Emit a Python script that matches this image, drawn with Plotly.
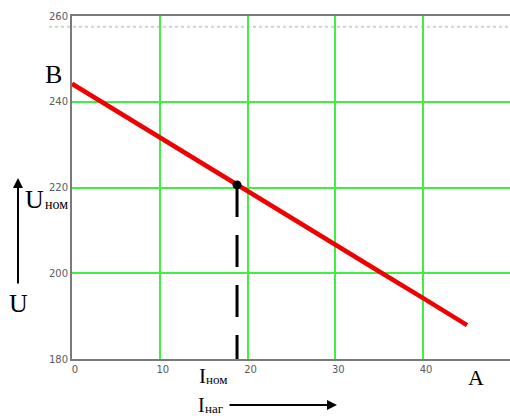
import plotly.graph_objects as go

# Data
I_load = [0, 5, 10, 15, 20, 25, 30, 35, 40, 45]
U_out = [244.2, 237.9, 231.7, 225.4, 219.2, 212.9, 206.7, 200.4, 194.2, 187.9]
I_nom = 18.8
U_nom = 220.6
x_ticks = [0, 10, 20, 30, 40]
y_ticks = [180, 200, 220, 240, 260]
ref_level = 257.5

W, H = 510, 416
L, R, T, B = 72, 0, 16, 57
PW, PH = W - L - R, H - T - B


def px(x):
    return (x - L) / PW


def py(y):
    return (H - B - y) / PH


SERIF = "Liberation Serif"
GREEN = "#40f040"
AXIS = "#7a7a7a"

fig = go.Figure()
fig.add_trace(go.Scatter(x=I_load, y=U_out, mode="lines",
                         line=dict(color="#f00000", width=4.5),
                         showlegend=False, hoverinfo="skip"))
fig.add_trace(go.Scatter(x=[I_nom, I_nom], y=[U_nom, y_ticks[0]], mode="lines",
                         line=dict(color="black", width=3, dash="32px,18px"),
                         showlegend=False, hoverinfo="skip"))
fig.add_trace(go.Scatter(x=[I_nom], y=[U_nom], mode="markers",
                         marker=dict(color="black", size=9),
                         showlegend=False, hoverinfo="skip", cliponaxis=False))

fig.add_shape(type="line", xref="paper", yref="y", x0=px(49), x1=1,
              y0=ref_level, y1=ref_level,
              line=dict(color="#d0d0d0", width=2, dash="dot"), layer="below")

ann = []


def text(t, x, y, size, xanchor="left", yanchor="middle"):
    ann.append(dict(text=t, x=px(x), y=py(y), xref="paper", yref="paper",
                    showarrow=False, xanchor=xanchor, yanchor=yanchor,
                    font=dict(family=SERIF, size=size, color="black")))


text("B", 53, 74, 26, xanchor="center")
text("U", 23, 199, 26)
text("ном", 43, 204, 14)
text("U", 18, 303, 26, xanchor="center")
text("I", 197, 376, 21)
text("ном", 204, 379, 13)
text("I", 196, 404.5, 20)
text("наг", 203, 408.5, 13)
text("A", 476, 377, 22, xanchor="center")

# arrows
ann.append(dict(text="", x=px(18), y=py(178), xref="paper", yref="paper",
                showarrow=True, ax=0, ay=107, axref="pixel", ayref="pixel",
                arrowhead=2, arrowsize=1, arrowwidth=2, arrowcolor="black"))
ann.append(dict(text="", x=px(337), y=py(405), xref="paper", yref="paper",
                showarrow=True, ax=-109, ay=0, axref="pixel", ayref="pixel",
                arrowhead=2, arrowsize=1, arrowwidth=2, arrowcolor="black"))

fig.update_layout(
    width=W, height=H,
    margin=dict(l=L, r=R, t=T, b=B, pad=0, autoexpand=False),
    plot_bgcolor="white", paper_bgcolor="white",
    annotations=ann,
    xaxis=dict(range=[0, 49.9], tickvals=x_ticks, ticktext=[str(v) for v in x_ticks],
               showgrid=True, gridcolor=GREEN, gridwidth=2, zeroline=False,
               showline=True, linecolor=AXIS, linewidth=2, mirror=True,
               ticks="", ticklabelshift=3,
               tickfont=dict(family="DejaVu Sans", size=10, color="#5a5a5a")),
    yaxis=dict(range=[180, 260], tickvals=y_ticks, ticktext=[str(v) for v in y_ticks],
               showgrid=True, gridcolor=GREEN, gridwidth=2, zeroline=False,
               showline=True, linecolor=AXIS, linewidth=2, mirror=False,
               ticks="", ticklabelstandoff=0,
               tickfont=dict(family="DejaVu Sans", size=10, color="#5a5a5a")),
)

fig.write_html("out.html", config={"displayModeBar": False},
               post_script="document.body.style.margin='0px';document.body.style.overflow='hidden';")
